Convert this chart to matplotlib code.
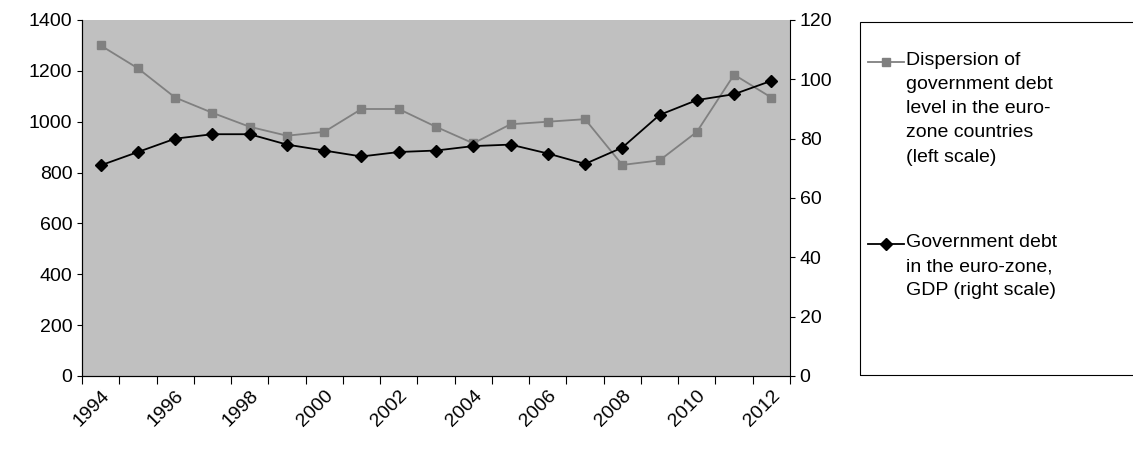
import numpy as np
import matplotlib.pyplot as plt
from matplotlib.lines import Line2D
from matplotlib.patches import Rectangle

years = list(range(1994, 2013))
dispersion = [1300, 1210, 1095, 1035, 980, 945, 960, 1050, 1050, 980, 915, 990, 1000, 1010, 830, 848, 960, 1185, 1095]
gov_debt = [71, 75.5, 80, 81.5, 81.5, 78, 76, 74, 75.5, 76, 77.5, 78, 75, 71.5, 77, 88, 93, 95, 99.5]
tick_years = years[::2]
labels = ['Dispersion of\ngovernment debt\nlevel in the euro-\nzone countries\n(left scale)',
          'Government debt\nin the euro-zone,\nGDP (right scale)']

plt.rcParams['font.family'] = ['Liberation Sans', 'DejaVu Sans']

W, H = 1133, 455
fig = plt.figure(figsize=(W/100, H/100), dpi=100)
ax = fig.add_axes([82/W, 1-376/H, 708/W, 356/H])
ax.set_facecolor('#c0c0c0')
x = np.arange(len(years))
ax.plot(x, dispersion, '-s', color='#808080', ms=6, lw=1.3)
ax.set_xlim(-0.5, len(years)-0.5)
ax.set_ylim(0, 1400)
ax.set_yticks(range(0, 1401, 200))
ax.set_xticks(np.arange(-0.5, len(years), 1), minor=False)
ax.set_xticklabels([])
ax.set_xticks(x[::2], minor=True)
ax.set_xticklabels([str(y) for y in tick_years], minor=True, rotation=45, ha='right', rotation_mode='anchor', fontsize=14)
ax.tick_params(axis='x', which='minor', length=0, pad=8)
ax.tick_params(axis='x', which='major', length=6, direction='out')
ax.tick_params(axis='y', labelsize=14)
for s in ['top', 'right']:
    ax.spines[s].set_visible(False)

ax2 = ax.twinx()
ax2.plot(x, gov_debt, '-D', color='black', ms=6, lw=1.3)
ax2.set_ylim(0, 120)
ax2.set_yticks(range(0, 121, 20))
ax2.tick_params(axis='y', labelsize=14)
ax2.spines['top'].set_visible(False)

# legend drawn by hand to match the tall box
fig.patches.append(Rectangle((860/W, 1-375/H), 300/W, 353/H, transform=fig.transFigure,
                             fill=False, edgecolor='black', lw=0.8))
styles = [dict(color='#808080', marker='s'), dict(color='black', marker='D')]
centers = [62, 244]
for lab, st, c in zip(labels, styles, centers):
    yl = 1 - c/H
    fig.lines.append(Line2D([868/W, 904/W], [yl, yl], transform=fig.transFigure, lw=1.3, color=st['color']))
    fig.lines.append(Line2D([886/W], [yl], transform=fig.transFigure, marker=st['marker'], ms=6, color=st['color']))
    fig.text(906/W, 1-(c-10)/H, lab, fontsize=14, va='top', ha='left', linespacing=1.55)

fig.savefig('out.png', dpi=100)
